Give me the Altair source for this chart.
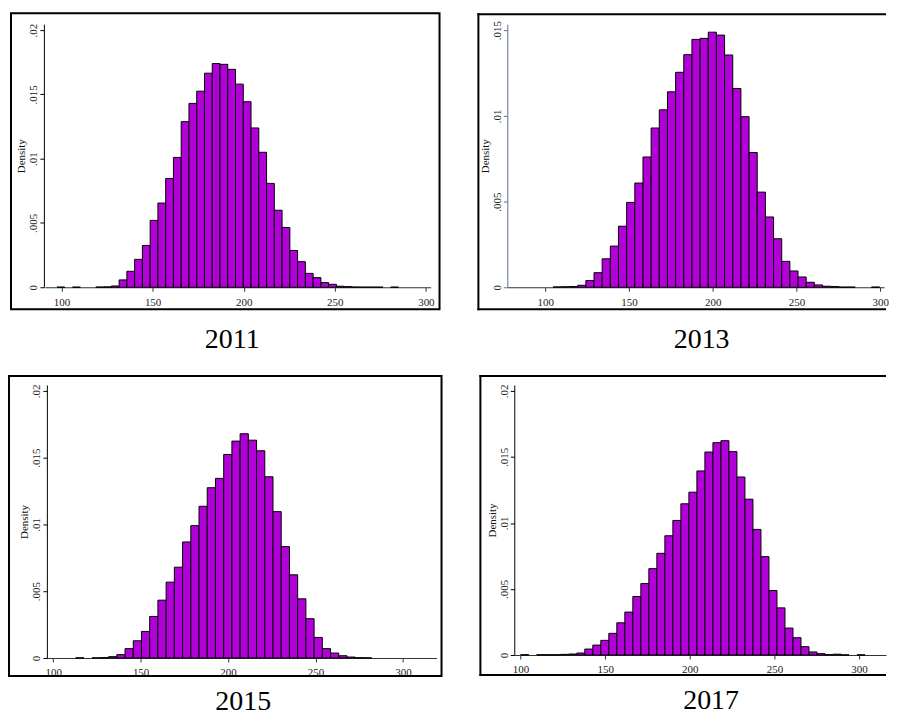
import altair as alt
import pandas as pd

FONT = "Liberation Serif"
BAR_FILL = "#B200D8"
X_TICKS = [100, 150, 200, 250, 300]
Y_TICKS_02 = [0, 0.005, 0.01, 0.015, 0.02]
Y_TICKS_015 = [0, 0.005, 0.01, 0.015]

years = ["2011", "2013", "2015", "2017"]

# ---- 2011 ----
width_2011 = 4.26
edges_2011 = [97.53, 106.05, 118.83, 123.09, 127.35, 131.61, 135.87, 140.13, 144.39, 148.65,
              152.91, 157.17, 161.43, 165.69, 169.95, 174.21, 178.47, 182.73, 186.99, 191.25,
              195.51, 199.77, 204.03, 208.29, 212.55, 216.81, 221.07, 225.33, 229.59, 233.85,
              238.11, 242.37, 246.63, 250.89, 255.15, 259.41, 263.67, 267.93, 272.19, 280.71]
dens_2011 = [0.00001, 0.00001, 0.00002, 0.00003, 0.0001, 0.00057, 0.00124, 0.00217, 0.00325, 0.0052,
             0.00655, 0.00846, 0.0101, 0.01288, 0.0143, 0.01525, 0.01665, 0.0174, 0.01734, 0.01695,
             0.0158, 0.01443, 0.01239, 0.0105, 0.00808, 0.00599, 0.00465, 0.00286, 0.00199, 0.00108,
             0.00075, 0.00036, 0.00023, 0.00008, 0.00005, 0.00002, 0.00001, 0.00001, 0.00001, 0.00001]

# ---- 2013 ----
width_2013 = 4.87
edges_2013 = [104.79, 109.66, 114.53, 119.40, 124.27, 129.14, 134.01, 138.88, 143.75, 148.62,
              153.49, 158.36, 163.23, 168.10, 172.97, 177.84, 182.71, 187.58, 192.45, 197.32,
              202.19, 207.06, 211.93, 216.80, 221.67, 226.54, 231.41, 236.28, 241.15, 246.02,
              250.89, 255.76, 260.63, 265.50, 270.37, 275.24, 280.11, 294.72]
dens_2013 = [0.00002, 0.00003, 0.00004, 0.000116, 0.00039, 0.00085, 0.00166, 0.0024, 0.00356, 0.00495,
             0.00608, 0.0076, 0.00929, 0.01035, 0.0114, 0.01254, 0.01357, 0.01446, 0.01452, 0.01488,
             0.01471, 0.01355, 0.01159, 0.00995, 0.00786, 0.00555, 0.0041, 0.00283, 0.00151, 0.00095,
             0.0006, 0.00029, 0.000135, 0.00006, 0.00004, 0.00001, 0.00001, 0.00001]

# ---- 2015 ----
width_2015 = 4.70
edges_2015 = [112.90, 122.30, 127.00, 131.70, 136.40, 141.10, 145.80, 150.50, 155.20, 159.90,
              164.60, 169.30, 174.00, 178.70, 183.40, 188.10, 192.80, 197.50, 202.20, 206.90,
              211.60, 216.30, 221.00, 225.70, 230.40, 235.10, 239.80, 244.50, 249.20, 253.90,
              258.60, 263.30, 268.00, 272.70, 277.40]
dens_2015 = [0.00001, 0.00001, 0.00003, 0.0001, 0.00025, 0.0007, 0.00129, 0.00199, 0.00311, 0.00433,
             0.00568, 0.0068, 0.00869, 0.00991, 0.01136, 0.01275, 0.01345, 0.01524, 0.01624, 0.01679,
             0.01631, 0.01552, 0.01357, 0.01096, 0.00834, 0.00623, 0.00443, 0.00294, 0.00154, 0.0007,
             0.00037, 0.00017, 0.00007, 0.00002, 0.00001]

# ---- 2017 ----
width_2017 = 4.73
edges_2017 = [100.12, 109.58, 114.31, 119.04, 123.77, 128.50, 133.23, 137.96, 142.69, 147.42,
              152.15, 156.88, 161.61, 166.34, 171.07, 175.80, 180.53, 185.26, 189.99, 194.72,
              199.45, 204.18, 208.91, 213.64, 218.37, 223.10, 227.83, 232.56, 237.29, 242.02,
              246.75, 251.48, 256.21, 260.94, 265.67, 270.40, 275.13, 279.86, 284.59, 289.32, 298.78]
dens_2017 = [0.00002, 0.00002, 0.00002, 0.00002, 0.00005, 0.000075, 0.00015, 0.00045, 0.00075, 0.00111,
             0.00164, 0.00244, 0.00325, 0.00443, 0.00541, 0.00654, 0.0077, 0.00903, 0.01019, 0.01145,
             0.01233, 0.01394, 0.01537, 0.01608, 0.01623, 0.0154, 0.01348, 0.0118, 0.00951, 0.00745,
             0.00488, 0.00357, 0.00204, 0.00131, 0.00063, 0.00023, 0.0001, 0.00003, 0.00006, 0.00001,
             0.00001]

ONE = pd.DataFrame({"k": [0]})
Y_LABEL_EXPR = "datum.value == 0 ? '0' : slice(format(datum.value, '.3~f'), 1)"


def panel(edges, dens, binw, xdom, ydom, yticks, w, h, yoff, ycolor,
          frame, open_right, cell, year, tx, ty):
    df = pd.DataFrame({"x0": edges, "d": dens})
    xaxis = alt.Axis(values=X_TICKS, format="d", title=None, grid=False,
                     labelFont=FONT, labelFontSize=11, labelColor="#222",
                     tickSize=4, labelPadding=5, tickColor="#333", domainColor="#333",
                     labelFlush=False, labelOverlap=False)
    yaxis = alt.Axis(values=yticks, labelExpr=Y_LABEL_EXPR, title="Density", grid=False,
                     labelAngle=270, labelAlign="center", labelBaseline="bottom",
                     labelFont=FONT, labelFontSize=11, labelColor="#222",
                     tickSize=4, labelPadding=1, tickColor=ycolor, domainColor=ycolor,
                     titleFont=FONT, titleFontSize=11, titleFontWeight="normal",
                     titleColor="#111", titlePadding=1, offset=yoff,
                     labelFlush=False, labelOverlap=False)
    bars = alt.Chart(df).transform_calculate(x1=f"datum.x0 + {binw}").mark_rect(
        fill=BAR_FILL, stroke="black", strokeWidth=1
    ).encode(
        x=alt.X("x0:Q", scale=alt.Scale(domain=xdom, nice=False, zero=False), axis=xaxis),
        x2=alt.X2("x1"),
        y=alt.Y("d:Q", scale=alt.Scale(domain=ydom, nice=False, zero=False), axis=yaxis),
        y2=alt.datum(0),
    )
    base = alt.Chart(ONE)
    cell_l = base.mark_rect(opacity=0).encode(
        x=alt.value(cell[0]), x2=alt.value(cell[1]),
        y=alt.value(cell[2]), y2=alt.value(cell[3]))
    fx1, fx2, fy1, fy2 = frame
    if open_right:
        fr = [
            base.mark_rule(color="black", strokeWidth=2, strokeCap="square").encode(
                x=alt.value(fx1), x2=alt.value(fx2), y=alt.value(fy1)),
            base.mark_rule(color="black", strokeWidth=2, strokeCap="square").encode(
                x=alt.value(fx1), x2=alt.value(fx2), y=alt.value(fy2)),
            base.mark_rule(color="black", strokeWidth=2, strokeCap="square").encode(
                x=alt.value(fx1), y=alt.value(fy1), y2=alt.value(fy2)),
        ]
    else:
        fr = [base.mark_rect(fill="white", fillOpacity=0, stroke="black", strokeWidth=2).encode(
            x=alt.value(fx1), x2=alt.value(fx2), y=alt.value(fy1), y2=alt.value(fy2))]
    txt = base.mark_text(font=FONT, fontSize=28, color="black", align="center",
                         baseline="alphabetic").encode(
        x=alt.value(tx), y=alt.value(ty), text=alt.value(year))
    return alt.layer(cell_l, *fr, bars, txt).properties(width=w, height=h)


p1 = panel(edges_2011, dens_2011, width_2011, [90.86, 302.57], [0, 0.020465], Y_TICKS_02,
           387, 264, 1, "black", (-34, 396, -11, 286), False, (-37, 415, -15, 339),
           years[0], 188, 325)
p2 = panel(edges_2013, dens_2013, width_2013, [77.4, 302.2], [0, 0.015349], Y_TICKS_015,
           378, 264, 0, "#5E6F9A", (-29, 379, -10, 286), True, (-49, 380, -15, 339),
           years[1], 195, 325)
p3 = panel(edges_2015, dens_2015, width_2015, [95.27, 319.2], [0, 0.020448], Y_TICKS_02,
           393, 274, -2, "black", (-36, 398, -9, 292), False, (-37, 415, -23, 333),
           years[2], 199, 326)
p4 = panel(edges_2017, dens_2017, width_2017, [96.3, 315.9], [0, 0.020453], Y_TICKS_02,
           373, 271, 0, "black", (-34, 372, -9, 291), True, (-56, 373, -23, 333),
           years[3], 197.5, 325)

row1 = alt.hconcat(p1, p2, spacing=0)
row2 = alt.hconcat(p3, p4, spacing=0)
chart = alt.vconcat(row1, row2, spacing=0).properties(padding=0).configure_view(strokeWidth=0)

chart.save("out.html", embed_options={"renderer": "svg", "actions": False})
